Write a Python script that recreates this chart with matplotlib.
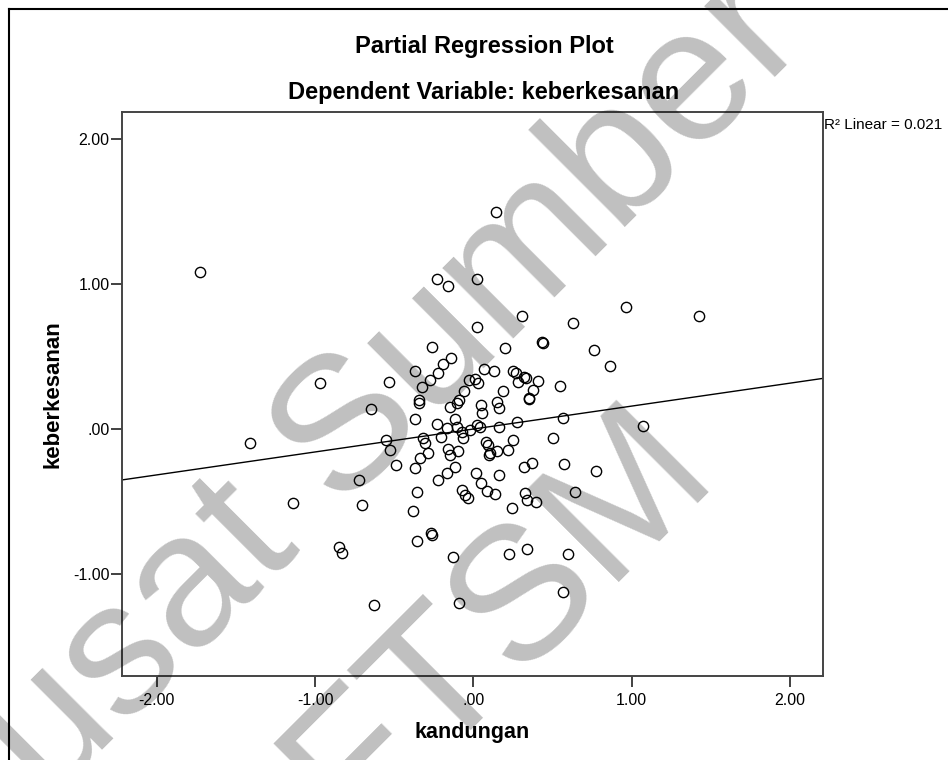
import matplotlib
matplotlib.use("Agg")
import matplotlib.pyplot as plt
from matplotlib.lines import Line2D
import numpy as np

plt.rcParams['font.family'] = ['Liberation Sans', 'DejaVu Sans']

# ---------------- data ----------------
kandungan = [
    0.022, -0.140, -0.189, -0.221, -0.273, -0.326, -0.368, -0.530, 0.549, 0.070,
    0.131, 0.254, 0.271, 0.322, 0.332, 0.412, 0.281, 0.380, 0.350, 0.355,
    0.190, 0.011, 0.028, -0.027, -0.058, -0.088, -0.100, -0.343, -0.341, -0.368,
    -0.147, 0.049, 0.058, 0.148, 0.163, -0.115, -0.231, -0.164, -0.104, -0.073,
    -0.063, 0.022, 0.043, -0.020, 0.165, 0.275, 0.570, -0.551, -0.526, -0.315,
    -0.305, -0.288, -0.206, -0.157, -0.147, -0.094, 0.081, 0.090, 0.097, 0.106,
    0.152, 0.218, 0.250, 0.502, -0.488, -0.368, -0.336, -0.115, -0.168, -0.221,
    0.018, 0.049, 0.165, 0.321, 0.370, 0.576, 0.643, -0.073, -0.052, -0.031,
    0.085, 0.138, 0.327, 0.338, 0.395, 0.247, -0.353, -0.382,
    -1.730, -0.231, -0.157, 0.022, 0.146, 0.962, 1.429, 0.307, 0.629, -0.259,
    0.203, 0.433, 0.441, 0.762, 0.865, -0.968, -0.648, -1.411, 1.075, 0.776,
    -0.720, -1.141, -0.705, -0.846, -0.831, -0.353, -0.269, -0.262, -0.126, -0.627,
    -0.088, 0.228, 0.338, 0.601, 0.570,
]
keberkesanan = [
    0.701, 0.487, 0.446, 0.384, 0.338, 0.292, 0.400, 0.322, 0.296, 0.411,
    0.402, 0.402, 0.384, 0.360, 0.350, 0.331, 0.326, 0.269, 0.212, 0.204,
    0.262, 0.343, 0.319, 0.338, 0.262, 0.200, 0.181, 0.200, 0.181, 0.069,
    0.154, 0.165, 0.112, 0.188, 0.143, 0.067, 0.032, 0.005, 0.012, -0.018,
    -0.064, 0.028, 0.012, -0.007, 0.016, 0.050, 0.078, -0.076, -0.145, -0.064,
    -0.099, -0.163, -0.053, -0.140, -0.179, -0.152, -0.088, -0.110, -0.179, -0.168,
    -0.152, -0.145, -0.076, -0.064, -0.248, -0.267, -0.202, -0.260, -0.305, -0.351,
    -0.301, -0.374, -0.317, -0.260, -0.232, -0.241, -0.436, -0.420, -0.455, -0.478,
    -0.427, -0.450, -0.439, -0.489, -0.501, -0.547, -0.432, -0.565,
    1.084, 1.032, 0.988, 1.032, 1.496, 0.839, 0.777, 0.777, 0.733, 0.567,
    0.556, 0.597, 0.593, 0.547, 0.436, 0.315, 0.138, -0.094, 0.021, -0.287,
    -0.351, -0.512, -0.524, -0.811, -0.853, -0.770, -0.719, -0.731, -0.880, -1.213,
    -1.201, -0.861, -0.827, -0.861, -1.125,
]

fit_slope = 0.158
fit_intercept = 0.0
r2_text = "R\u00b2 Linear = 0.021"

x_ticks = [-2.0, -1.0, 0.0, 1.0, 2.0]
x_tick_labels = ["-2.00", "-1.00", ".00", "1.00", "2.00"]
y_ticks = [-1.0, 0.0, 1.0, 2.0]
y_tick_labels = ["-1.00", ".00", "1.00", "2.00"]

title_text = "Partial Regression Plot"
subtitle_text = "Dependent Variable: keberkesanan"
x_label = "kandungan"
y_label = "keberkesanan"
watermark_1 = "Pusat Sumber"
watermark_2 = "FTSM"

# ---------------- figure ----------------
W, H = 948, 760
fig = plt.figure(figsize=(W / 100, H / 100), dpi=100)
fig.patch.set_facecolor("white")

ax = fig.add_axes([122 / W, 1 - 676 / H, 701 / W, 564 / H])
ax.set_xlim(-2.22, 2.21)
ax.set_ylim(-1.702, 2.185)

ax.plot(kandungan, keberkesanan, linestyle="none", marker="o", markersize=7.4,
        markerfacecolor="none", markeredgecolor="black", markeredgewidth=1.0,
        zorder=3)

xl = np.array(ax.get_xlim())
ax.plot(xl, fit_intercept + fit_slope * xl, color="black", linewidth=1.0, zorder=2)

ax.set_xticks(x_ticks)
ax.set_xticklabels(x_tick_labels)
ax.set_yticks(y_ticks)
ax.set_yticklabels(y_tick_labels)
ax.tick_params(axis="both", direction="out", length=8, width=1.3,
               color="#333333", labelsize=11.5, labelcolor="black")
ax.tick_params(axis="x", pad=4)
ax.tick_params(axis="y", pad=1)
for sp in ax.spines.values():
    sp.set_linewidth(1.4)
    sp.set_color("#444444")

ax.set_xlabel(x_label, fontsize=15.5, fontweight="bold", labelpad=10)
ax.set_ylabel(y_label, fontsize=16, fontweight="bold", labelpad=7)

fig.text(484 / W, 1 - 47 / H, title_text, ha="center", va="center",
         fontsize=17, fontweight="bold")
fig.text(484 / W, 1 - 92.5 / H, subtitle_text, ha="center", va="center",
         fontsize=17, fontweight="bold")
fig.text(824 / W, 1 - 125 / H, r2_text, ha="left", va="center", fontsize=11)

# outer border (top and left visible)
fig.add_artist(Line2D([9 / W, 9 / W], [0, 1 - 9 / H], transform=fig.transFigure,
                      color="black", linewidth=1.5))
fig.add_artist(Line2D([9 / W, 1], [1 - 9 / H, 1 - 9 / H], transform=fig.transFigure,
                      color="black", linewidth=1.5))

# watermark
fig.text(350 / W, 1 - 432 / H, watermark_1, rotation=45, rotation_mode="anchor",
         ha="center", va="center", fontsize=137, color="black", alpha=0.25, zorder=20)
fig.text(498 / W, 1 - 618 / H, watermark_2, rotation=45, rotation_mode="anchor",
         ha="center", va="center", fontsize=137, color="black", alpha=0.25, zorder=20)

fig.savefig("out.png", dpi=100)
